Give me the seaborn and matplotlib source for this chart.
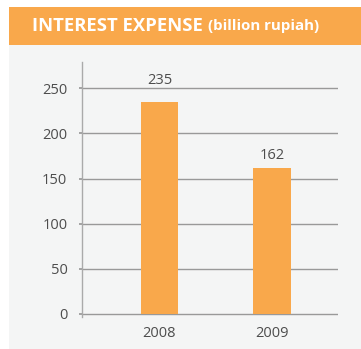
import matplotlib
matplotlib.use("Agg")
import matplotlib.pyplot as plt
from matplotlib.patches import Rectangle
import seaborn as sns
import pandas as pd

years = ["2008", "2009"]
values = [235, 162]
yticks = [0, 50, 100, 150, 200, 250]
title_main = "INTEREST EXPENSE"
title_unit = "(billion rupiah)"

sns.set_theme(style="white")
plt.rcParams["font.family"] = ["Open Sans", "DejaVu Sans"]

ORANGE = "#f9a84b"
BG = "#f4f5f5"
TXT = "#4d4d4d"
GRID = "#999999"

W, H = 361, 349
fig = plt.figure(figsize=(W / 100, H / 100), dpi=100)
fig.patch.set_facecolor("white")

# background panel and header band
fig.add_artist(Rectangle((9 / W, 0), (W - 9) / W, (H - 45) / H,
                         transform=fig.transFigure, facecolor=BG,
                         edgecolor="none", zorder=-5))
fig.add_artist(Rectangle((9 / W, (H - 45) / H), (W - 9) / W, 38 / H,
                         transform=fig.transFigure, facecolor=ORANGE,
                         edgecolor="none", zorder=-5))
t1 = fig.text(32 / W, (H - 26) / H, title_main, color="white", fontsize=13.3,
              fontweight="bold", va="center", ha="left")
fig.canvas.draw()
bb = t1.get_window_extent()
fig.text(bb.x1 / W + 5 / W, (H - 26) / H, title_unit, color="white",
         fontsize=10.8, fontweight="bold", va="center", ha="left")

ax = fig.add_axes([82 / W, (H - 316.7) / H, 256 / W, (316.7 - 62) / H])
ax.set_facecolor("none")
ax.set_zorder(5)

df = pd.DataFrame({"year": years, "value": values})
sns.barplot(data=df, x="year", y="value", color=ORANGE, saturation=1,
            width=0.33, ax=ax, zorder=3, linewidth=0, edgecolor="none")

ax.set_xlim(-0.689, 1.587)
ax.set_ylim(-3, 279)
ax.set_yticks(yticks)
ax.set_xlabel("")
ax.set_ylabel("")
ax.yaxis.grid(True, color=GRID, linewidth=1)
ax.set_axisbelow(True)
for s in ["top", "right", "bottom"]:
    ax.spines[s].set_visible(False)
ax.spines["left"].set_color("#aaaaaa")
ax.spines["left"].set_linewidth(1)
ax.tick_params(axis="y", length=2, color=GRID, pad=8.5, labelsize=10.5,
               labelcolor=TXT, left=True)
ax.tick_params(axis="x", length=0, pad=6.5, labelsize=10.5, labelcolor=TXT)

pads = [10, 3.5]
for bar, v, p in zip(ax.patches, values, pads):
    ax.annotate(str(v), (bar.get_x() + bar.get_width() / 2, bar.get_height()),
                xytext=(0, p), textcoords="offset points", ha="center",
                va="bottom", fontsize=10.5, color=TXT)

fig.savefig("out.png", dpi=100)
